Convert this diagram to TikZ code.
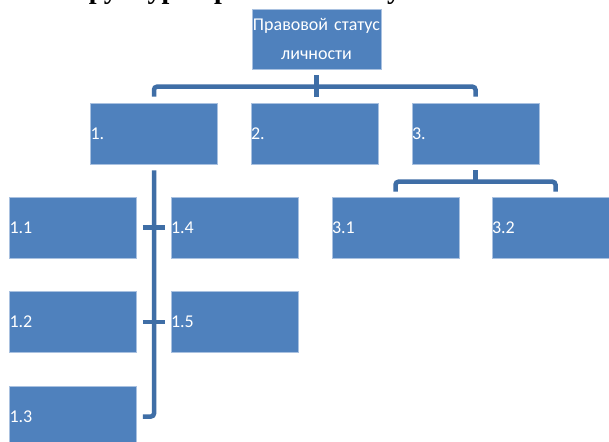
\documentclass[tikz,border=0pt]{standalone}
\usepackage{fontspec}
\setmainfont{Carlito}
\newfontfamily\titlefont{Liberation Serif}
\definecolor{boxblue}{HTML}{4F81BD}
\definecolor{lineblue}{HTML}{3F6EA6}
\definecolor{edgeblue}{HTML}{A9C1E0}
\tikzset{
  orgbox/.style={
    draw=edgeblue,
    line width=0.6pt,
    fill=boxblue,
    text=white,
    minimum width=127pt,
    minimum height=61pt,
    text width=127pt,
    align=left,
    inner sep=0pt,
    font=\fontsize{18}{29}\selectfont
  },
  link/.style={draw=lineblue, line width=4.5pt, rounded corners=3pt}
}

\begin{document}
\begin{tikzpicture}[x=1pt,y=-1pt]
\clip (0,0) rectangle (609,441);
\fill[white] (0,0) rectangle (609,441);
\node[font=\titlefont\bfseries\fontsize{28}{30}\selectfont, anchor=base, inner sep=0pt] (title) at (304.5,-1.5) {Структура правового статуса личности};
\node[orgbox, minimum width=129pt, minimum height=60pt, text width=129pt, align=center] (top) at (316.5,39) {Правовой статус\\личности};
\node[orgbox] (b1) at (154,133.5) {1.};
\node[orgbox] (b2) at (314.5,133.5) {2.};
\node[orgbox] (b3) at (475.5,133.5) {3.};
\node[orgbox] (b11) at (73,227.5) {1.1};
\node[orgbox] (b14) at (234.5,227.5) {1.4};
\node[orgbox] (b12) at (73,322) {1.2};
\node[orgbox] (b15) at (234.5,322) {1.5};
\node[orgbox] (b13) at (73,416.5) {1.3};
\node[orgbox] (b31) at (395.5,227.5) {3.1};
\node[orgbox] (b32) at (555.5,227.5) {3.2};
% top level
\draw[link] ([yshift=-6pt]top.south) -- ([yshift=6pt]top.south |- b2.north);
\draw[link] ([yshift=6pt]b1.north) |- ([yshift=16pt]b2.north) -| ([yshift=6pt]b3.north);
% branch 1
\draw[link] ([yshift=-6pt]b1.south) |- ([xshift=6pt]b13.east);
\draw[link] ([xshift=6pt]b11.east) -- ([xshift=-6pt]b14.west);
\draw[link] ([xshift=6pt]b12.east) -- ([xshift=-6pt]b15.west);
% branch 3
\draw[link] ([yshift=-6pt]b3.south) -- ([yshift=15pt]b3.south |- b31.north);
\draw[link] ([yshift=5pt]b31.north) |- ([yshift=15pt]b3.south |- b31.north) -| ([yshift=5pt]b32.north);
\end{tikzpicture}
\end{document}
